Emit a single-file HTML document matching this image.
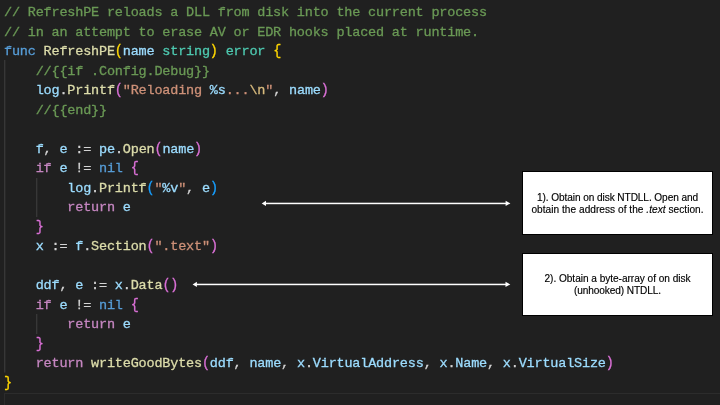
<!DOCTYPE html>
<html><head><meta charset="utf-8">
<style>
html,body{margin:0;padding:0;}
body{width:720px;height:405px;overflow:hidden;background:#202020;position:relative;}
pre{position:absolute;left:4.3px;top:3.2px;will-change:transform;-webkit-text-stroke:0.3px currentColor;margin:0;font-family:"Liberation Mono",monospace;font-size:13.5px;letter-spacing:-0.186px;line-height:19.52px;color:#d4d4d4;white-space:pre;}
.c{color:#6a9955}.k{color:#569cd6}.f{color:#dcdcaa}.v{color:#9cdcfe}.t{color:#4ec9b0}
.p{color:#c586c0}.s{color:#ce9178}.e{color:#d7ba7d}.b1{color:#ffd700}.b2{color:#da70d6}.b3{color:#179fff}.b1,.b2,.b3{display:inline-block;transform:scaleY(1.08) translateY(-0.3px);}
.guide{position:absolute;width:1px;background:#404040;}
.box{position:absolute;left:522px;width:189px;background:#fff;border:1px solid #000;font-family:"Liberation Sans",sans-serif;font-size:10.1px;line-height:12px;color:#000;text-align:center;-webkit-text-stroke:0.15px #000;}
.arrow{position:absolute;}
</style></head><body>
<svg style="position:absolute;left:0;top:0" width="720" height="405"><g fill="#3d3d3d"><rect x="4.2" y="60" width="1.1" height="312.5"/><rect x="36.2" y="178" width="1.1" height="39"/><rect x="36.2" y="314" width="1.1" height="20"/></g></svg>
<div style="position:absolute;left:4px;top:393px;width:720px;height:30px;border-top:1px solid #2c2c2c;border-left:1px solid #2c2c2c;"></div>
<pre><span class="c">// RefreshPE reloads a DLL from disk into the current process</span>
<span class="c">// in an attempt to erase AV or EDR hooks placed at runtime.</span>
<span class="k">func</span> <span class="f">RefreshPE</span><span class="b1">(</span><span class="v">name</span> <span class="t">string</span><span class="b1">)</span> <span class="t">error</span> <span class="b1">{</span>
    <span class="c">//{{if .Config.Debug}}</span>
    <span class="v">log</span>.<span class="f">Printf</span><span class="b2">(</span><span class="s">"Reloading </span><span class="v">%s</span><span class="s">...</span><span class="e">\n</span><span class="s">"</span>, <span class="v">name</span><span class="b2">)</span>
    <span class="c">//{{end}}</span>

    <span class="v">f</span>, <span class="v">e</span> := <span class="v">pe</span>.<span class="f">Open</span><span class="b2">(</span><span class="v">name</span><span class="b2">)</span>
    <span class="p">if</span> <span class="v">e</span> != <span class="k">nil</span> <span class="b2">{</span>
        <span class="v">log</span>.<span class="f">Printf</span><span class="b3">(</span><span class="s">"</span><span class="v">%v</span><span class="s">"</span>, <span class="v">e</span><span class="b3">)</span>
        <span class="p">return</span> <span class="v">e</span>
    <span class="b2">}</span>
    <span class="v">x</span> := <span class="v">f</span>.<span class="f">Section</span><span class="b2">(</span><span class="s">".text"</span><span class="b2">)</span>

    <span class="v">ddf</span>, <span class="v">e</span> := <span class="v">x</span>.<span class="f">Data</span><span class="b2">()</span>
    <span class="p">if</span> <span class="v">e</span> != <span class="k">nil</span> <span class="b2">{</span>
        <span class="p">return</span> <span class="v">e</span>
    <span class="b2">}</span>
    <span class="p">return</span> <span class="f">writeGoodBytes</span><span class="b2">(</span><span class="v">ddf</span>, <span class="v">name</span>, <span class="v">x</span>.<span class="v">VirtualAddress</span>, <span class="v">x</span>.<span class="v">Name</span>, <span class="v">x</span>.<span class="v">VirtualSize</span><span class="b2">)</span>
<span class="b1">}</span></pre>

<svg class="arrow" style="left:0;top:0" width="720" height="405">
  <g fill="#fff" stroke="none">
    <rect x="265" y="202.7" width="241" height="1.5"/>
    <polygon points="261.7,203.4 266.0,200.8 266.0,206.0"/>
    <polygon points="510.4,203.4 505.6,200.8 505.6,206.0"/>
    <rect x="196" y="283.7" width="310" height="1.5"/>
    <polygon points="192.6,284.4 196.9,281.8 196.9,287.0"/>
    <polygon points="510.3,284.4 505.5,281.8 505.5,287.0"/>
  </g>
</svg>

<div class="box" style="top:171px;height:62px;">
  <div style="position:absolute;left:0;right:0;top:19.7px;"><span style="letter-spacing:-0.08px">1). Obtain on disk NTDLL. Open and</span><br><span style="letter-spacing:0.04px">obtain the address of the <i>.text</i> section.</span></div>
</div>
<div class="box" style="top:253px;height:61px;">
  <div style="position:absolute;left:0;right:0;top:19.3px;"><span style="letter-spacing:-0.03px">2). Obtain a byte-array of on disk</span><br><span style="letter-spacing:-0.1px">(unhooked) NTDLL.</span></div>
</div>
</body></html>
